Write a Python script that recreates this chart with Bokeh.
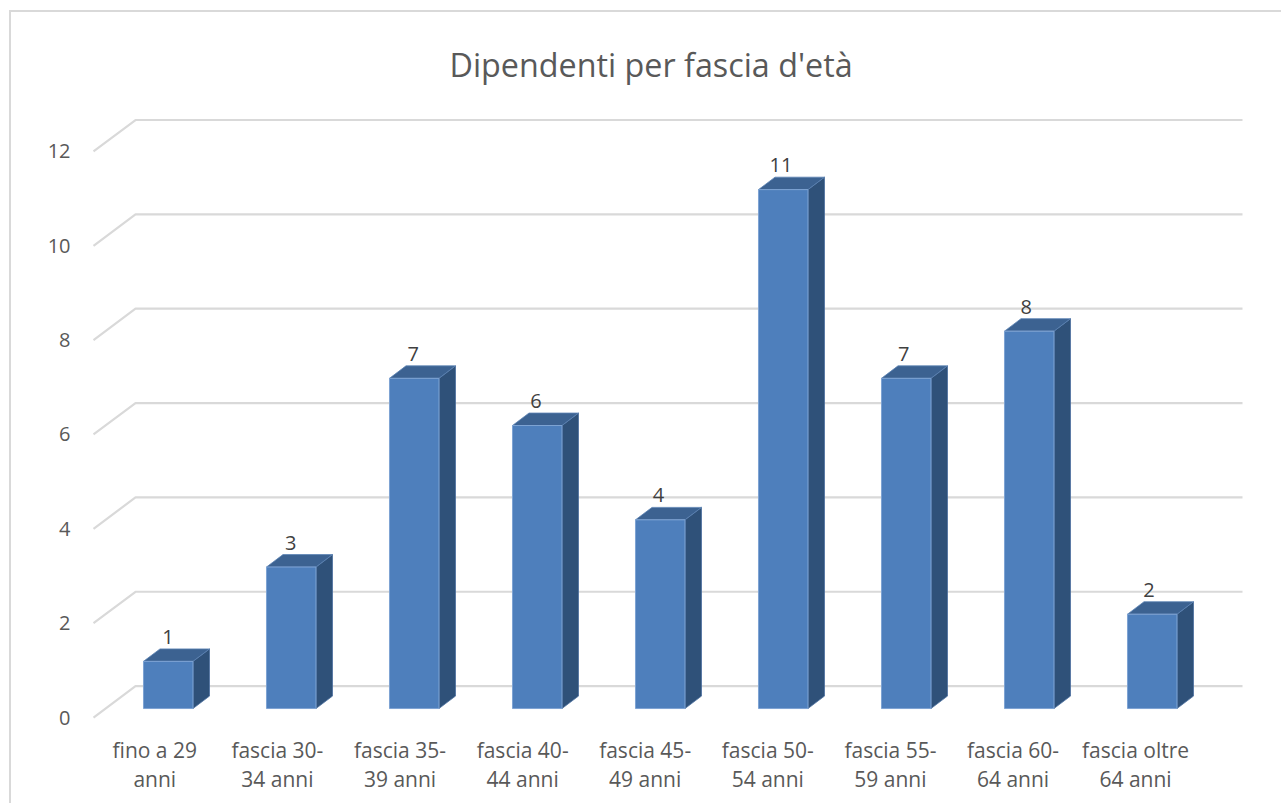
from bokeh.plotting import figure
from bokeh.models import FixedTicker, Range1d, ColumnDataSource
from bokeh.core.properties import value
from bokeh.embed import file_html
from bokeh.resources import INLINE

title = "Dipendenti per fascia d'età"
categories = ["fino a 29\nanni", "fascia 30-\n34 anni", "fascia 35-\n39 anni",
              "fascia 40-\n44 anni", "fascia 45-\n49 anni", "fascia 50-\n54 anni",
              "fascia 55-\n59 anni", "fascia 60-\n64 anni", "fascia oltre\n64 anni"]
values = [1, 3, 7, 6, 4, 11, 7, 8, 2]
y_ticks = [0, 2, 4, 6, 8, 10, 12]

FONT = "Open Sans"
PAGE_W, PAGE_H = 1283, 805
OX, OY = 11, 12                # figure's drawing origin on the page
W, H = PAGE_W - OX, PAGE_H - OY
PX_X, PX_Y = 123.0, 47.33      # pixels per category / per value unit
X0_PX, Y0_PX = 93.0, 717.0     # page pixel of the data origin
FL, FR, FT, FB = 90, 1246, 110, 721  # plot frame on the page

# 3-D depth expressed in data units
wall_dx, wall_dy = 42 / PX_X, 31.5 / PX_Y
bar_dx, bar_dy = 16.5 / PX_X, 12.5 / PX_Y
bar_x0, bar_y0 = 0.4065 - 0.5, 9 / PX_Y
bar_w = 49.5 / PX_X
label_pitch = 122.6 / PX_X

p = figure(width=W, height=H, output_backend="svg", toolbar_location=None,
           x_range=Range1d((FL - X0_PX) / PX_X, (FR - X0_PX) / PX_X),
           y_range=Range1d((Y0_PX - FB) / PX_Y, (Y0_PX - FT) / PX_Y),
           min_border_left=FL - OX, min_border_right=PAGE_W - FR,
           min_border_top=FT - OY, min_border_bottom=PAGE_H - FB,
           background_fill_color="white", border_fill_color="white",
           outline_line_color=None,
           margin=(10, 0, 0, 9),
           styles={"border-top": "2px solid #d9d9d9", "border-left": "2px solid #d9d9d9"})

p.title.text = title
p.title.text_font = FONT
p.title.text_font_size = "32.3px"
p.title.text_font_style = "normal"
p.title.text_color = "#595959"
p.title.align = "left"
p.title.offset = 359
p.title.standoff = 54
p.title.text_line_height = 0.8

p.grid.visible = False

# y axis
p.yaxis.ticker = FixedTicker(ticks=y_ticks)
p.yaxis.axis_line_color = None
p.yaxis.major_tick_line_color = None
p.yaxis.minor_tick_line_color = None
p.yaxis.major_label_standoff = 14
p.yaxis.major_label_text_font = FONT
p.yaxis.major_label_text_font_size = "20px"
p.yaxis.major_label_text_color = "#595959"

# x axis
n = len(categories)
x_pos = [round((i + 0.5) * label_pitch, 3) for i in range(n)]
p.xaxis.ticker = FixedTicker(ticks=x_pos)
p.xaxis.major_label_overrides = dict(zip(x_pos, categories))
p.xaxis.axis_line_color = None
p.xaxis.major_tick_line_color = None
p.xaxis.minor_tick_line_color = None
p.xaxis.major_label_standoff = 8
p.xaxis.major_label_text_font = FONT
p.xaxis.major_label_text_font_size = "21px"
p.xaxis.major_label_text_color = "#595959"
p.xaxis.major_label_text_line_height = 1.05

# gridlines: a diagonal on the side wall + a horizontal on the back wall
grid_xs = [[0, wall_dx, n + wall_dx] for _ in y_ticks]
grid_ys = [[t, t + wall_dy, t + wall_dy] for t in y_ticks]
p.multi_line(grid_xs, grid_ys, line_color="#d9d9d9", line_width=2.2)

# 3-D bars
lefts = [i + 0.5 + bar_x0 for i in range(n)]
rights = [l + bar_w for l in lefts]
bottoms = [bar_y0] * n
tops = [bar_y0 + v for v in values]

side_xs = [[r, r + bar_dx, r + bar_dx, r] for r in rights]
side_ys = [[b, b + bar_dy, t + bar_dy, t] for b, t in zip(bottoms, tops)]
top_xs = [[l, l + bar_dx, r + bar_dx, r] for l, r in zip(lefts, rights)]
top_ys = [[t, t + bar_dy, t + bar_dy, t] for t in tops]

p.patches(side_xs, side_ys, fill_color="#2f5179", line_color="#4a6f9e", line_width=0.8)
p.patches(top_xs, top_ys, fill_color="#3c6291", line_color="#5c83b4", line_width=0.8)
p.quad(left=lefts, right=rights, bottom=bottoms, top=tops,
       fill_color="#4e7fbc", line_color="#7ea3d3", line_width=1)

# data labels
src = ColumnDataSource(dict(x=[(i + 0.5) * label_pitch + bar_x0 + bar_w / 2 for i in range(n)],
                            y=[t + bar_dy for t in tops],
                            t=[str(v) for v in values]))
p.text(x="x", y="y", text="t", source=src, text_align="center",
       text_baseline="middle", y_offset=-12, text_font=value(FONT),
       text_font_size="20px", text_color="#404040")

open("out.html", "w").write(file_html(p, INLINE))
